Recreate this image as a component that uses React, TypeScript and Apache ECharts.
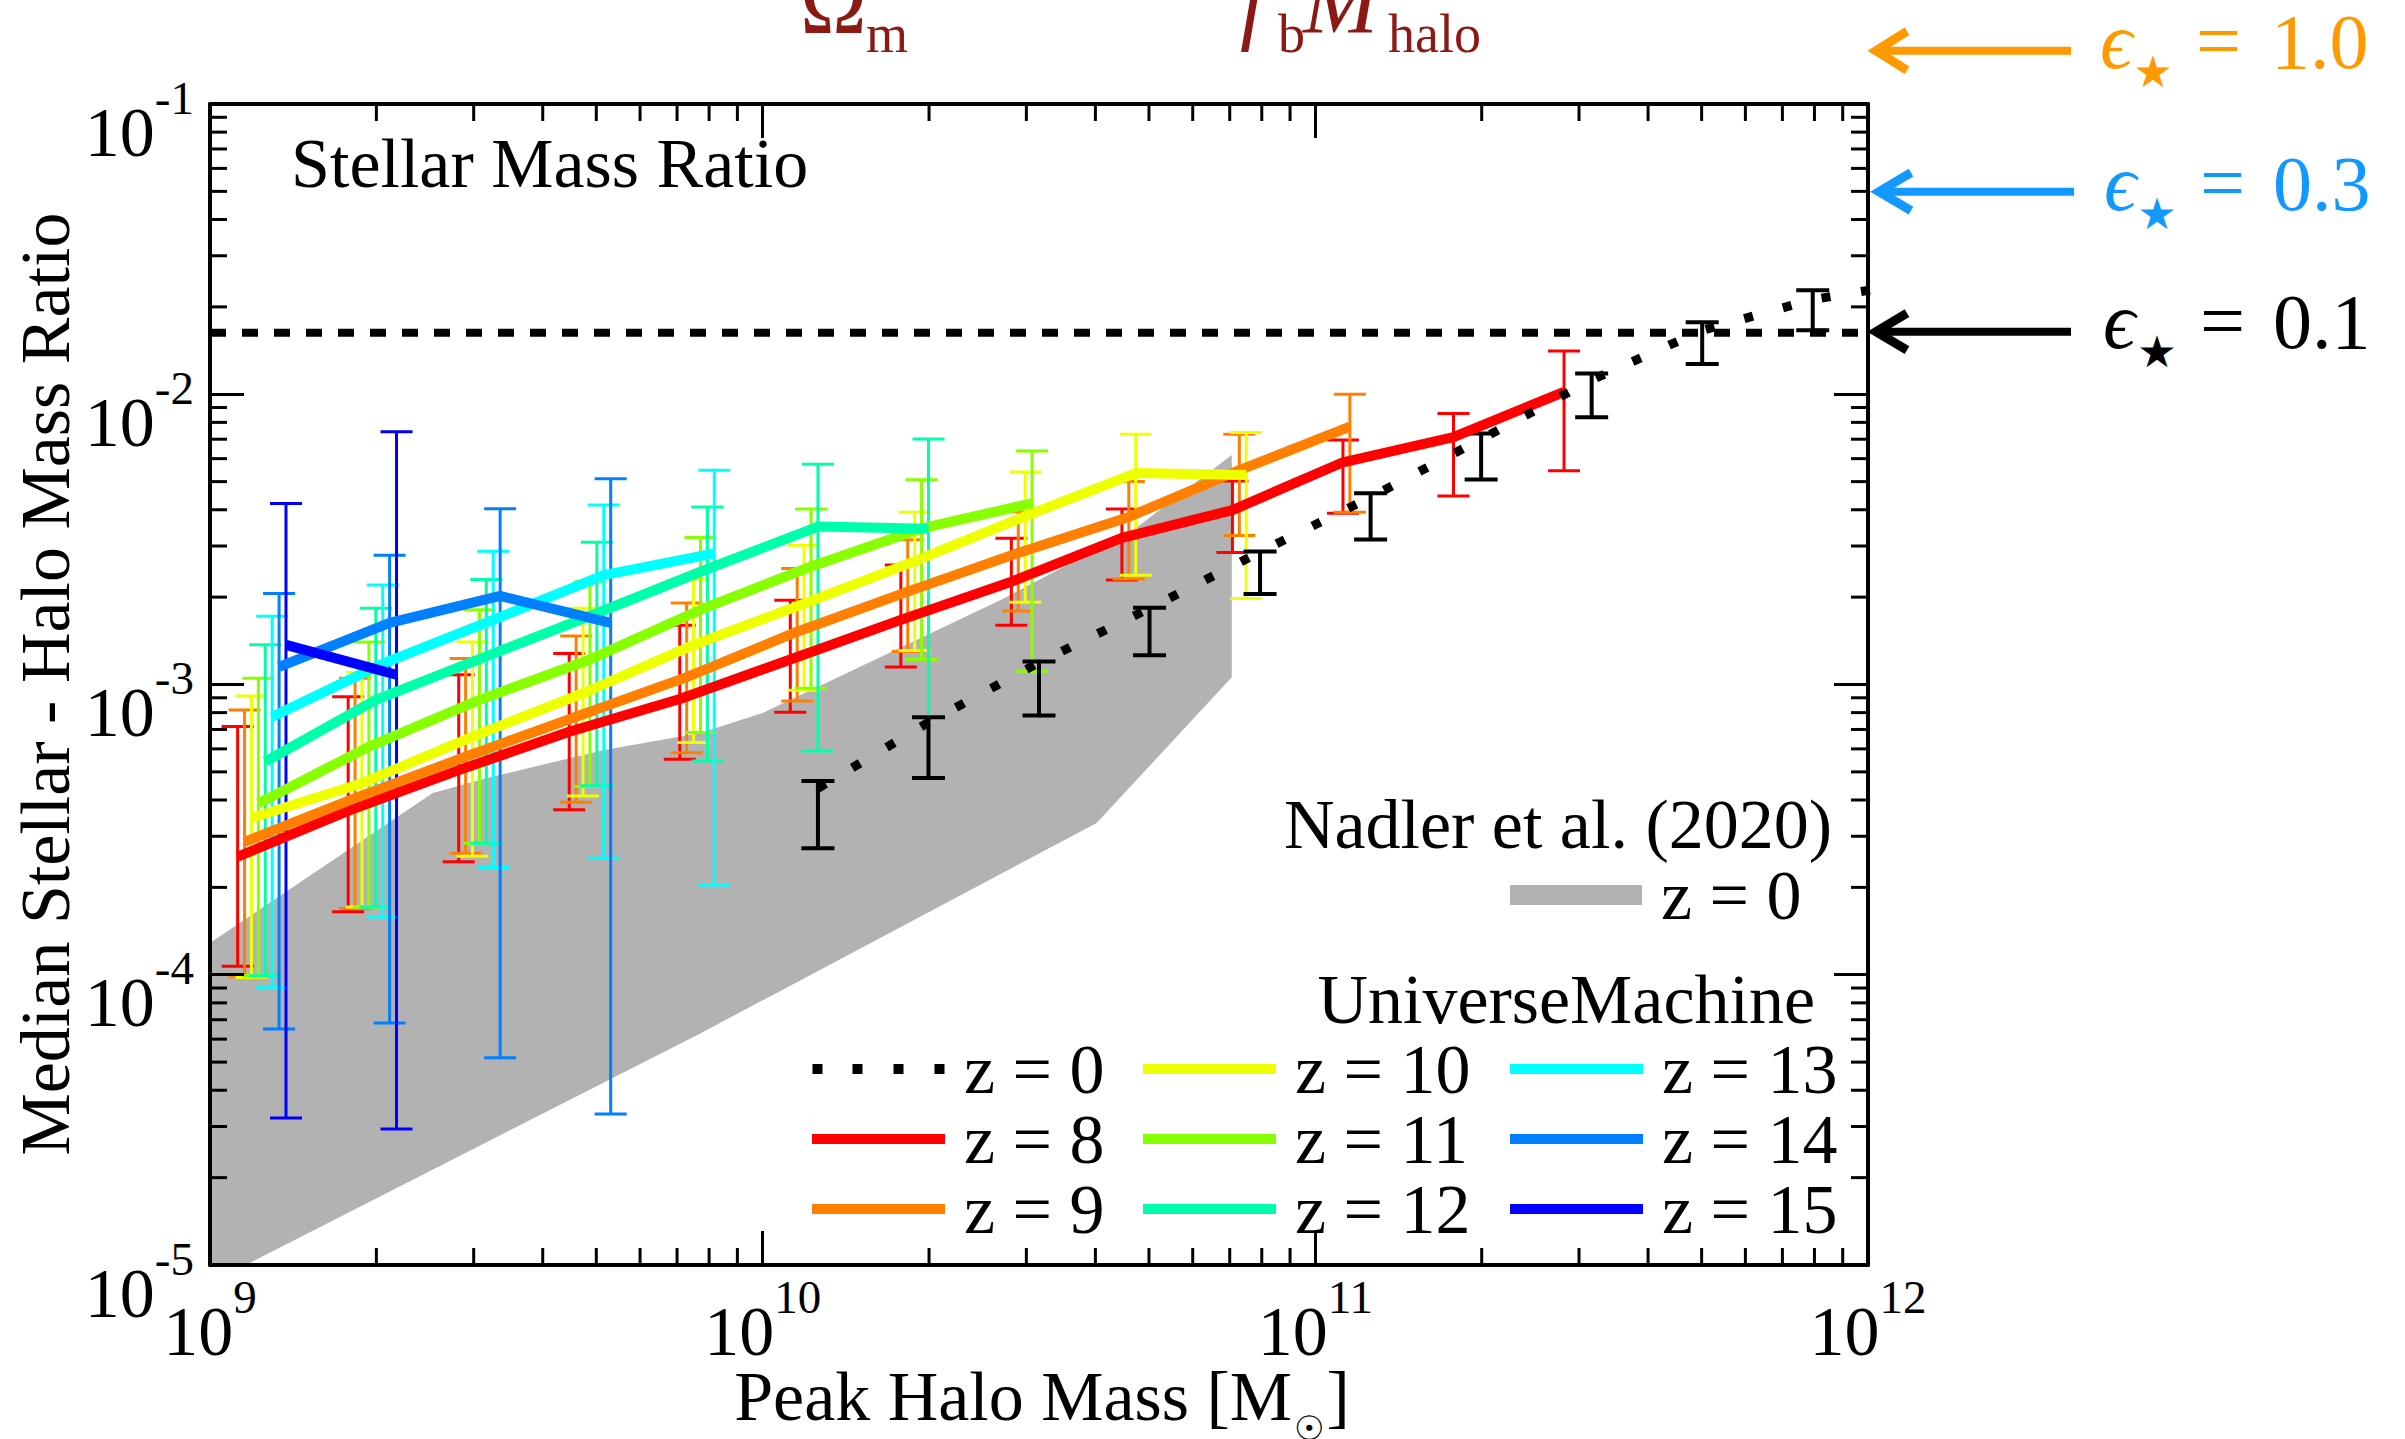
import React, { useEffect, useRef } from 'react';
import * as echarts from 'echarts';

const W = 2405;
const H = 1439;
const FONT = "'Liberation Serif', 'Times New Roman', Times, serif";
const DARK_RED = '#8c1a14';

const X_MIN = 1e9;
const X_MAX = 1e12;
const Y_MIN = 1e-5;
const Y_MAX = 1e-1;

// UniverseMachine high-z mass bins (log10 Mpeak) and per-redshift horizontal offsets (dex)
const MASS_BINS_LOG = [9.1, 9.3, 9.5, 9.7, 9.9, 10.1, 10.3, 10.5, 10.7, 10.9, 11.1, 11.3, 11.5];
const REDSHIFTS = [8, 9, 10, 11, 12, 13, 14, 15];
const Z_COLORS = ['#ff0000', '#ff8000', '#eeff00', '#88ff00', '#00ffaa', '#00ffff', '#0080ff', '#0000ff'];
const Z_OFFSET_DEX = [-0.05, -0.0375, -0.025, -0.0125, 0, 0.0125, 0.025, 0.0375];

const MED_Z8 = [2.55e-4, 3.67e-4, 5.07e-4, 6.87e-4, 8.91e-4, 1.22e-3, 1.67e-3, 2.26e-3, 3.2e-3, 3.99e-3, 5.83e-3, 7.11e-3, 1.02e-2];
const HI_Z8 = [7.16e-4, 9.08e-4, 1.08e-3, 1.28e-3, 1.6e-3, 1.95e-3, 2.58e-3, 3.19e-3, 4.02e-3, 5.02e-3, 6.95e-3, 8.59e-3, 1.41e-2];
const LO_Z8 = [1.07e-4, 1.65e-4, 2.45e-4, 3.7e-4, 5.53e-4, 8.02e-4, 1.15e-3, 1.6e-3, 2.29e-3, 2.85e-3, 3.89e-3, 4.46e-3, 5.45e-3];

const MED_Z9 = [2.87e-4, 4.06e-4, 5.64e-4, 7.74e-4, 1.06e-3, 1.52e-3, 2.09e-3, 2.84e-3, 3.78e-3, 5.48e-3, 7.73e-3];
const HI_Z9 = [8.17e-4, 1.05e-3, 1.23e-3, 1.47e-3, 1.91e-3, 2.51e-3, 3.15e-3, 3.94e-3, 5.0e-3, 7.28e-3, 1.0e-2];
const LO_Z9 = [9.84e-5, 1.69e-4, 2.62e-4, 3.93e-4, 5.82e-4, 8.77e-4, 1.3e-3, 1.79e-3, 2.31e-3, 3.26e-3, 3.92e-3];

const MED_Z10 = [3.47e-4, 4.57e-4, 6.61e-4, 9.33e-4, 1.37e-3, 1.9e-3, 2.66e-3, 3.8e-3, 5.35e-3, 5.27e-3];
const HI_Z10 = [9.12e-4, 1.1e-3, 1.4e-3, 1.83e-3, 2.31e-3, 3.02e-3, 3.92e-3, 5.4e-3, 7.28e-3, 7.38e-3];
const LO_Z10 = [9.79e-5, 1.71e-4, 2.56e-4, 4.13e-4, 6.31e-4, 9.55e-4, 1.31e-3, 1.92e-3, 2.38e-3, 1.98e-3];

const MED_Z11 = [3.89e-4, 6.11e-4, 8.85e-4, 1.22e-3, 1.81e-3, 2.55e-3, 3.45e-3, 4.21e-3];
const HI_Z11 = [1.05e-3, 1.4e-3, 1.81e-3, 2.26e-3, 3.21e-3, 4.02e-3, 5.07e-3, 6.37e-3];
const LO_Z11 = [9.93e-5, 1.71e-4, 2.84e-4, 4.45e-4, 6.84e-4, 9.7e-4, 1.22e-3, 1.11e-3];

const MED_Z12 = [5.42e-4, 8.85e-4, 1.25e-3, 1.76e-3, 2.5e-3, 3.5e-3, 3.44e-3];
const HI_Z12 = [1.37e-3, 1.83e-3, 2.3e-3, 3.09e-3, 4.09e-3, 5.74e-3, 7.01e-3];
const LO_Z12 = [9.93e-5, 1.71e-4, 2.84e-4, 4.48e-4, 5.45e-4, 5.9e-4, 4.75e-4];

const MED_Z13 = [7.74e-4, 1.18e-3, 1.67e-3, 2.38e-3, 2.83e-3];
const HI_Z13 = [1.72e-3, 2.2e-3, 2.88e-3, 4.15e-3, 5.47e-3];
const LO_Z13 = [9.06e-5, 1.58e-4, 2.34e-4, 2.52e-4, 2.04e-4];

const MED_Z14 = [1.15e-3, 1.63e-3, 2.02e-3, 1.63e-3];
const HI_Z14 = [2.06e-3, 2.79e-3, 4.03e-3, 5.12e-3];
const LO_Z14 = [6.5e-5, 6.82e-5, 5.18e-5, 3.31e-5];

const MED_Z15 = [1.37e-3, 1.08e-3];
const HI_Z15 = [4.2e-3, 7.43e-3];
const LO_Z15 = [3.21e-5, 2.94e-5];

// UniverseMachine z = 0
const UM0_MASS_LOG = [10.1, 10.3, 10.5, 10.7, 10.9, 11.1, 11.3, 11.5, 11.7, 11.9, 12.1];
const UM0_MED = [4.39e-4, 7.41e-4, 1.19e-3, 1.83e-3, 2.86e-3, 4.42e-3, 7.0e-3, 1.12e-2, 1.66e-2, 2.12e-2, 2.45e-2];
const UM0_HI = [4.65e-4, 7.71e-4, 1.2e-3, 1.84e-3, 2.87e-3, 4.56e-3, 7.33e-3, 1.18e-2, 1.77e-2, 2.28e-2];
const UM0_LO = [2.73e-4, 4.76e-4, 7.82e-4, 1.26e-3, 2.05e-3, 3.16e-3, 5.09e-3, 8.34e-3, 1.27e-2, 1.66e-2];

// Nadler et al. (2020) z = 0 band outline (polygon vertices)
const NADLER_MASS = [8.91e8, 2.53e9, 3.16e9, 5.14e9, 7.71e9, 1.0e10, 2.69e10, 4.68e10, 7.06e10, 7.06e10, 4.02e10, 7.71e9, 1.16e9, 8.91e8];
const NADLER_RATIO = [1.11e-4, 4.23e-4, 4.75e-4, 5.94e-4, 6.81e-4, 7.98e-4, 1.95e-3, 3.4e-3, 6.18e-3, 1.06e-3, 3.33e-4, 6.28e-5, 1.0e-5, 7.59e-6];

// epsilon_* = 0.1 reference level
const EPS_LINE_X = [1e9, 1e12];
const EPS_LINE_Y = [0.0163, 0.0163];

const X_MINOR_DECADES = [9, 10, 11];
const Y_MINOR_DECADES = [-5, -4, -3, -2];
const MINOR_MULTS = [2, 3, 4, 5, 6, 7, 8, 9];

const HIGHZ = [
  { med: MED_Z8, hi: HI_Z8, lo: LO_Z8 },
  { med: MED_Z9, hi: HI_Z9, lo: LO_Z9 },
  { med: MED_Z10, hi: HI_Z10, lo: LO_Z10 },
  { med: MED_Z11, hi: HI_Z11, lo: LO_Z11 },
  { med: MED_Z12, hi: HI_Z12, lo: LO_Z12 },
  { med: MED_Z13, hi: HI_Z13, lo: LO_Z13 },
  { med: MED_Z14, hi: HI_Z14, lo: LO_Z14 },
  { med: MED_Z15, hi: HI_Z15, lo: LO_Z15 },
];

const DOT_ICON = 'path://M0 0h10v10H0z M40 0h10v10H40z M81 0h10v10H81z M122 0h10v10H122z';

function errorBarRender(color: string, lw: number, hw: number) {
  return (params: any, api: any) => {
    const x = api.value(0);
    const lo = api.value(1);
    const hi = api.value(2);
    const a = api.coord([x, lo]);
    const b = api.coord([x, hi]);
    const style = { stroke: color, lineWidth: lw, fill: null };
    return {
      type: 'group',
      children: [
        { type: 'line', shape: { x1: a[0], y1: a[1], x2: b[0], y2: b[1] }, style },
        { type: 'line', shape: { x1: a[0] - hw, y1: a[1], x2: a[0] + hw, y2: a[1] }, style },
        { type: 'line', shape: { x1: b[0] - hw, y1: b[1], x2: b[0] + hw, y2: b[1] }, style },
      ],
    };
  };
}

function midY(baseline: number, fs: number) {
  return baseline - 0.3375 * fs;
}

function txt(text: string, x: number, baseline: number, fs: number, color: string, opts: any = {}) {
  return {
    type: 'text',
    x,
    y: midY(baseline, fs),
    silent: true,
    z: 20,
    style: {
      text,
      font: `${opts.italic ? 'italic ' : ''}${fs}px ${FONT}`,
      fill: color,
      align: opts.align || 'left',
      verticalAlign: 'middle',
    },
  };
}

function arrow(tipX: number, y: number, endX: number, armX: number, armDy: number, color: string) {
  return [
    {
      type: 'line',
      silent: true,
      z: 20,
      shape: { x1: tipX + 2, y1: y, x2: endX, y2: y },
      style: { stroke: color, lineWidth: 8 },
    },
    {
      type: 'polyline',
      silent: true,
      z: 20,
      shape: { points: [[armX, y - armDy], [tipX, y], [armX, y + armDy]] },
      style: { stroke: color, lineWidth: 9, fill: null, lineJoin: 'miter' },
    },
  ];
}

function epsLabel(eps: string, color: string, baseline: number, epsX: number, starCX: number, eqX: number, numX: number) {
  return [
    txt('ϵ', epsX, baseline, 80, color, { italic: true }),
    {
      type: 'text',
      x: starCX,
      y: baseline + 3.5,
      silent: true,
      z: 20,
      style: { text: '★', font: `44px 'DejaVu Sans', sans-serif`, fill: color, align: 'center', verticalAlign: 'middle' },
    },
    txt('=', eqX, baseline, 80, color),
    txt(eps, numX, baseline, 78, color),
  ];
}

function buildOption(): any {
  const series: any[] = [];

  // Nadler band
  series.push({
    type: 'custom',
    name: 'Nadler et al. (2020) z = 0',
    coordinateSystem: 'cartesian2d',
    clip: true,
    silent: true,
    z: 1,
    itemStyle: { color: '#b2b2b2' },
    encode: { x: 0, y: 1 },
    data: NADLER_MASS.map((m, i) => [m, NADLER_RATIO[i]]),
    renderItem: (params: any, api: any) => {
      if (params.dataIndex !== 0) return null;
      const pts = NADLER_MASS.map((m, i) => api.coord([m, NADLER_RATIO[i]]));
      return { type: 'polygon', shape: { points: pts }, style: { fill: '#b2b2b2', stroke: null } };
    },
  });

  // epsilon = 0.1 level
  series.push({
    type: 'line',
    name: 'eps01',
    silent: true,
    z: 2,
    symbol: 'none',
    showSymbol: false,
    data: EPS_LINE_X.map((x, i) => [x, EPS_LINE_Y[i]]),
    lineStyle: { color: '#000', width: 8, type: [16, 16], cap: 'butt' },
    itemStyle: { color: '#000' },
  });

  HIGHZ.forEach((s, k) => {
    const color = Z_COLORS[k];
    const off = Z_OFFSET_DEX[k];
    const xs = s.med.map((_, i) => Math.pow(10, MASS_BINS_LOG[i] + off));
    series.push({
      type: 'custom',
      name: `err z${REDSHIFTS[k]}`,
      coordinateSystem: 'cartesian2d',
      silent: true,
      z: 3,
      clip: true,
      encode: { x: 0, y: [1, 2] },
      itemStyle: { color },
      data: xs.map((x, i) => [x, s.lo[i], s.hi[i]]),
      renderItem: errorBarRender(color, 3, 16),
    });
    series.push({
      type: 'line',
      name: `z = ${REDSHIFTS[k]}`,
      silent: true,
      z: 3,
      symbol: 'none',
      showSymbol: false,
      data: xs.map((x, i) => [x, s.med[i]]),
      lineStyle: { color, width: 10, cap: 'butt', join: 'round' },
      itemStyle: { color },
    });
  });

  const um0x = UM0_MASS_LOG.map((l) => Math.pow(10, l));
  series.push({
    type: 'custom',
    name: 'err z0',
    coordinateSystem: 'cartesian2d',
    silent: true,
    z: 3,
    clip: true,
    encode: { x: 0, y: [1, 2] },
    itemStyle: { color: '#000' },
    data: UM0_LO.map((lo, i) => [um0x[i], lo, UM0_HI[i]]),
    renderItem: errorBarRender('#000', 4, 16.5),
  });
  series.push({
    type: 'line',
    name: 'z = 0',
    silent: true,
    z: 3,
    symbol: 'none',
    showSymbol: false,
    data: um0x.map((x, i) => [x, UM0_MED[i]]),
    lineStyle: { color: '#000', width: 9, type: [9, 31], cap: 'butt' },
    itemStyle: { color: '#000' },
  });

  // minor ticks
  const xMinor: number[][] = [];
  X_MINOR_DECADES.forEach((d) => MINOR_MULTS.forEach((m) => xMinor.push([m * Math.pow(10, d), 1e-3])));
  const yMinor: number[][] = [];
  Y_MINOR_DECADES.forEach((d) => MINOR_MULTS.forEach((m) => yMinor.push([1e10, m * Math.pow(10, d)])));
  const tickStyle = { stroke: '#000', lineWidth: 3 };
  series.push({
    type: 'custom',
    name: 'xminor',
    coordinateSystem: 'cartesian2d',
    silent: true,
    z: 8,
    clip: false,
    encode: { x: 0, y: 1 },
    data: xMinor,
    renderItem: (params: any, api: any) => {
      const cs = params.coordSys;
      const px = api.coord([api.value(0), 1e-3])[0];
      return {
        type: 'group',
        children: [
          { type: 'line', shape: { x1: px, y1: cs.y + cs.height, x2: px, y2: cs.y + cs.height - 17 }, style: tickStyle },
          { type: 'line', shape: { x1: px, y1: cs.y, x2: px, y2: cs.y + 17 }, style: tickStyle },
        ],
      };
    },
  });
  series.push({
    type: 'custom',
    name: 'yminor',
    coordinateSystem: 'cartesian2d',
    silent: true,
    z: 8,
    clip: false,
    encode: { x: 0, y: 1 },
    data: yMinor,
    renderItem: (params: any, api: any) => {
      const cs = params.coordSys;
      const py = api.coord([1e10, api.value(1)])[1];
      return {
        type: 'group',
        children: [
          { type: 'line', shape: { x1: cs.x, y1: py, x2: cs.x + 17, y2: py }, style: tickStyle },
          { type: 'line', shape: { x1: cs.x + cs.width, y1: py, x2: cs.x + cs.width - 17, y2: py }, style: tickStyle },
        ],
      };
    },
  });

  const rich = {
    b: { fontSize: 70, lineHeight: 70, padding: [28, 0, 0, 0], fontFamily: FONT, color: '#000', verticalAlign: 'top' },
    s: { fontSize: 47, lineHeight: 47, padding: [5, 0, 0, 0], fontFamily: FONT, color: '#000', verticalAlign: 'top' },
  };
  const fmt = (v: number) => `{b|10}{s|${Math.round(Math.log10(v))}}`;
  const axisLine = { show: true, lineStyle: { color: '#000', width: 4 } };
  const axisTick = { show: true, inside: true, length: 34, lineStyle: { color: '#000', width: 3 } };
  const common = { type: 'log', logBase: 10, z: 10, splitLine: { show: false }, axisLine, axisTick, minorTick: { show: false } };

  const legendText = { fontFamily: FONT, fontSize: 70, lineHeight: 64, color: '#000', padding: [0, 0, 0, 14] };
  const LEGEND_COLS = [
    ['z = 0', 'z = 8', 'z = 9'],
    ['z = 10', 'z = 11', 'z = 12'],
    ['z = 13', 'z = 14', 'z = 15'],
  ];
  const LEGEND_LEFT = [812, 1143, 1510];

  const graphic: any[] = [
    txt('Stellar Mass Ratio', 291, 187, 70, '#000'),
    txt('Nadler et al. (2020)', 1832, 848, 70, '#000', { align: 'right' }),
    txt('UniverseMachine', 1815, 1023, 70, '#000', { align: 'right' }),
    {
      type: 'text',
      x: 45,
      y: 684,
      rotation: Math.PI / 2,
      silent: true,
      style: {
        text: 'Median Stellar - Halo Mass Ratio',
        font: `70px ${FONT}`,
        fill: '#000',
        align: 'center',
        verticalAlign: 'middle',
      },
    },
    {
      type: 'text',
      x: 1042,
      y: 1420 - 58.6,
      silent: true,
      style: {
        text: '{a|Peak Halo Mass [M}{c|☉}{a|]}',
        align: 'center',
        verticalAlign: 'top',
        rich: {
          a: { fontSize: 70, lineHeight: 70, fontFamily: FONT, color: '#000', verticalAlign: 'top' },
          c: { fontSize: 34, lineHeight: 34, fontFamily: "'DejaVu Sans', sans-serif", color: '#000', verticalAlign: 'top', padding: [50, 2, 0, 2] },
        },
      },
    },
    // formula fragments at top (cut off)
    txt('Ω', 800, 33, 90, DARK_RED),
    txt('m', 866, 52, 54, DARK_RED),
    txt('f', 1240, 33, 90, DARK_RED, { italic: true }),
    txt('b', 1278, 52, 54, DARK_RED),
    txt('M', 1303, 33, 90, DARK_RED, { italic: true }),
    txt('halo', 1388, 52, 54, DARK_RED),
    ...arrow(1876, 50.7, 2071, 1907, 19.5, '#ff9900'),
    ...arrow(1879, 191.7, 2074, 1911, 19, '#1199ff'),
    ...arrow(1876, 331.7, 2071, 1907, 18.5, '#000000'),
    ...epsLabel('1.0', '#ff9900', 68, 2100, 2153, 2196, 2271),
    ...epsLabel('0.3', '#1199ff', 210, 2104, 2157, 2200, 2273),
    ...epsLabel('0.1', '#000000', 348, 2103, 2157, 2200, 2273),
  ];

  return {
    animation: false,
    backgroundColor: '#ffffff',
    textStyle: { fontFamily: FONT },
    grid: { left: 210, top: 104, width: 1658, height: 1161, show: false },
    xAxis: [
      {
        ...common,
        position: 'bottom',
        min: X_MIN,
        max: X_MAX,
        axisLabel: { show: true, formatter: fmt, rich, margin: 3, showMinLabel: true, showMaxLabel: true, fontFamily: FONT, fontSize: 70 },
      },
      { ...common, position: 'top', min: X_MIN, max: X_MAX, axisLabel: { show: false } },
    ],
    yAxis: [
      {
        ...common,
        position: 'left',
        min: Y_MIN,
        max: Y_MAX,
        axisLabel: { show: true, formatter: fmt, rich, margin: 16, showMinLabel: true, showMaxLabel: true, fontFamily: FONT, fontSize: 70 },
      },
      { ...common, position: 'right', min: Y_MIN, max: Y_MAX, axisLabel: { show: false } },
    ],
    legend: [
      ...LEGEND_COLS.map((names, i) => ({
        orient: 'vertical',
        left: LEGEND_LEFT[i],
        top: 1034,
        padding: 0,
        itemGap: 0,
        itemWidth: 133,
        itemHeight: 10,
        icon: 'rect',
        selectedMode: false,
        itemStyle: { borderWidth: 0 },
        textStyle: legendText,
        data: names.map((n) => (n === 'z = 0' ? { name: n, icon: DOT_ICON } : { name: n })),
      })),
      {
        orient: 'vertical',
        left: 1510,
        top: 860,
        padding: 0,
        itemGap: 0,
        itemWidth: 132,
        itemHeight: 20,
        icon: 'rect',
        selectedMode: false,
        itemStyle: { borderWidth: 0 },
        textStyle: legendText,
        formatter: () => 'z = 0',
        data: [{ name: 'Nadler et al. (2020) z = 0' }],
      },
    ],
    graphic,
    series,
  };
}

export default function App() {
  const ref = useRef<HTMLDivElement>(null);
  useEffect(() => {
    if (!ref.current) return;
    const chart = echarts.init(ref.current, null, { renderer: 'svg', width: W, height: H });
    chart.setOption(buildOption());
    return () => chart.dispose();
  }, []);
  return (
    <div
      ref={ref}
      style={{ position: 'fixed', left: 0, top: 0, width: W, height: H, background: '#ffffff' }}
    />
  );
}
